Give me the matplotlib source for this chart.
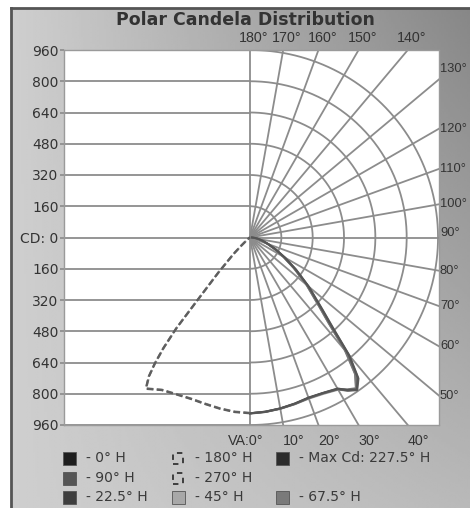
import numpy as np
import matplotlib
matplotlib.use("Agg")
import matplotlib.pyplot as plt
from matplotlib.patches import Rectangle

# ---------------- data ----------------
title = "Polar Candela Distribution"
cd_ticks = [960, 800, 640, 480, 320, 160, 0, -160, -320, -480, -640, -800, -960]
cd_tick_labels = ["960", "800", "640", "480", "320", "160", "CD: 0",
                  "160", "320", "480", "640", "800", "960"]
arc_radii = [160, 320, 480, 640, 800, 960]
radial_angles = [0, 10, 20, 30, 40, 50, 60, 70, 80, 90, 100, 110, 120,
                 130, 140, 150, 160, 170, 180]

# right half (0-side planes), vertical angle in degrees from nadir
va_right = [0, 5, 10, 15, 20, 25, 30, 32.5, 35, 37.5, 40, 42.5, 45, 50,
            55, 60, 65, 70, 75, 80, 85, 90]
cd_0h = [900, 895, 888, 880, 872, 878, 893, 925, 950, 905, 785, 620, 520,
         390, 285, 205, 145, 100, 68, 45, 25, 10]
cd_22h = [900, 896, 889, 882, 875, 880, 896, 928, 952, 898, 775, 610, 512,
          385, 280, 200, 142, 98, 66, 44, 24, 9]
cd_45h = [900, 897, 891, 884, 878, 884, 900, 930, 948, 890, 765, 600, 505,
          380, 276, 198, 140, 96, 65, 43, 23, 9]
cd_67h = [900, 896, 890, 883, 876, 881, 897, 926, 945, 885, 760, 598, 502,
          378, 274, 196, 138, 95, 64, 42, 23, 8]
cd_90h = [900, 895, 889, 881, 874, 879, 894, 922, 942, 880, 752, 592, 498,
          375, 272, 195, 137, 94, 63, 42, 22, 8]
cd_max = [902, 897, 890, 882, 874, 880, 897, 930, 955, 910, 792, 628, 526,
          394, 288, 207, 147, 101, 69, 46, 26, 10]

# left half (180-side planes)
va_left = [0, 5, 10, 15, 20, 25, 30, 32.5, 34.5, 36, 37, 38, 39, 40, 42,
           45, 47, 50, 55, 60, 70, 80]
cd_180h = [900, 897, 890, 883, 880, 887, 902, 922, 940, 880, 810, 720, 600,
           410, 245, 120, 60, 25, 10, 5, 2, 0]
cd_270h = [898, 895, 888, 881, 878, 885, 900, 920, 937, 876, 805, 714, 594,
           404, 240, 116, 58, 24, 10, 5, 2, 0]

legend_items = [
    ("- 0° H", "#1e1e1e", "solid"),
    ("- 180° H", "#333333", "dashed"),
    ("- Max Cd: 227.5° H", "#2c2c2c", "solid"),
    ("- 90° H", "#555555", "solid"),
    ("- 270° H", "#333333", "dashed"),
    None,
    ("- 22.5° H", "#3e3e3e", "solid"),
    ("- 45° H", "#a8a8a8", "solid"),
    ("- 67.5° H", "#7a7a7a", "solid"),
]

# ---------------- figure ----------------
W, H = 470, 508
fig = plt.figure(figsize=(W / 100, H / 100), dpi=100)

def fx(px):
    return px / W

def fy(py):
    return 1 - py / H

# background gradient
bg = fig.add_axes([0, 0, 1, 1], zorder=-10)
bg.set_xlim(0, W)
bg.set_ylim(H, 0)
bg.axis("off")
gx = np.linspace(0, 1, 200)
gy = np.linspace(0, 1, 200)
GX, GY = np.meshgrid(gx, gy)
val = 0.81 - 0.28 * GX * (1 - 0.7 * GY)
bg.imshow(val, cmap="gray", vmin=0, vmax=1, extent=[11, W, H, 8],
          aspect="auto", interpolation="bilinear")
bg.plot([11, 11], [8, H], color="#555555", lw=2)
bg.plot([11, W], [8, 8], color="#555555", lw=2)

# main axes
x0, x1 = -950, 965
y0, y1 = -960, 960
ax = fig.add_axes([fx(64), fy(425), fx(439) - fx(64), fy(50) - fy(425)])
ax.set_facecolor("white")
ax.set_xlim(x0, x1)
ax.set_ylim(y0, y1)
for s in ax.spines.values():
    s.set_color("#9a9a9a")
    s.set_linewidth(1.0)
ax.set_xticks([])
ax.set_yticks(cd_ticks)
ax.set_yticklabels(cd_tick_labels, fontsize=10, color="#333333",
                   family="DejaVu Sans")
ax.tick_params(axis="y", length=3, width=1.2, color="#8a8a8a", pad=1)

grid_c = "#8c8c8c"
grid_lw = 1.3
# horizontal grid on left half
for v in cd_ticks:
    ax.plot([x0, 0], [v, v], color=grid_c, lw=grid_lw, zorder=1)
# arcs on right half
th = np.linspace(-np.pi / 2, np.pi / 2, 300)
for r in arc_radii:
    ax.plot(r * np.cos(th), r * np.sin(th), color=grid_c, lw=grid_lw, zorder=1)

# radial lines and their labels
def hit_point(va_deg):
    a = np.radians(va_deg)
    dx, dy = np.sin(a), -np.cos(a)
    ts = []
    if dx > 1e-9:
        ts.append(x1 / dx)
    if dy > 1e-9:
        ts.append(y1 / dy)
    if dy < -1e-9:
        ts.append(y0 / dy)
    t = min(ts)
    return t * dx, t * dy

lab_kw = dict(color="#333333", family="Liberation Sans",
              textcoords="offset pixels", annotation_clip=False)
for a in radial_angles:
    hx, hy = hit_point(a)
    ax.plot([0, hx], [0, hy], color=grid_c, lw=grid_lw, zorder=1)
    lab = f"{a}°"
    if a == 0:
        ax.annotate("VA:0°", (hx, hy), xytext=(13, -16), ha="right",
                    va="center", fontsize=10.3, **lab_kw)
    elif a < 50:
        ax.annotate(lab, (hx, hy), xytext=(0, -16), ha="left",
                    va="center", fontsize=10.3, **lab_kw)
    elif a <= 130:
        dyo = 10 if a == 130 else (4 if a == 90 else 0)
        ax.annotate(lab, (hx, hy), xytext=(1, dyo), ha="left",
                    va="center", fontsize=9.3, **lab_kw)
    else:
        ax.annotate(lab, (hx, hy), xytext=(4, 12), ha="center",
                    va="center", fontsize=10.3, **lab_kw)

# curves
def right_xy(va, cd):
    a = np.radians(va)
    c = np.asarray(cd, float)
    return c * np.sin(a), -c * np.cos(a)

def left_xy(va, cd):
    a = np.radians(va)
    c = np.asarray(cd, float)
    return -c * np.sin(a), -c * np.cos(a)

for cd, col in [(cd_45h, "#9a9a9a"), (cd_67h, "#8a8a8a"), (cd_90h, "#7a7a7a"),
                (cd_22h, "#6e6e6e"), (cd_max, "#606060"), (cd_0h, "#555555")]:
    xs, ys = right_xy(va_right, cd)
    ax.plot(xs, ys, color=col, lw=1.4, zorder=3)

for cd, col in [(cd_270h, "#7a7a7a"), (cd_180h, "#5e5e5e")]:
    xs, ys = left_xy(va_left, cd)
    ax.plot(xs, ys, color=col, lw=1.6, ls=(0, (3, 1.5)), zorder=3)

# title
fig.text(fx(245), fy(20), title, fontsize=12.5, fontweight="bold",
         color="#333333", ha="center", va="center", family="DejaVu Sans")

# legend
col_x = [63, 172, 276]
row_y = [458, 478, 497]
sq = 13
for i, item in enumerate(legend_items):
    if item is None:
        continue
    label, color, style = item
    cx = col_x[i % 3]
    cy = row_y[i // 3]
    if style == "solid":
        rect = Rectangle((fx(cx), fy(cy + sq / 2)), sq / W, sq / H,
                         transform=fig.transFigure, facecolor=color,
                         edgecolor="#555555", lw=0.6)
    else:
        rect = Rectangle((fx(cx + 1), fy(cy + sq / 2 - 1)), (sq - 3) / W,
                         (sq - 2) / H, transform=fig.transFigure,
                         facecolor="none", edgecolor=color, lw=1.3,
                         ls=(0, (3, 3)))
    fig.add_artist(rect)
    fig.text(fx(cx + sq + 10), fy(cy), label, fontsize=10, color="#3a3a3a",
             ha="left", va="center", family="DejaVu Sans")

fig.savefig("out.png", dpi=100)
